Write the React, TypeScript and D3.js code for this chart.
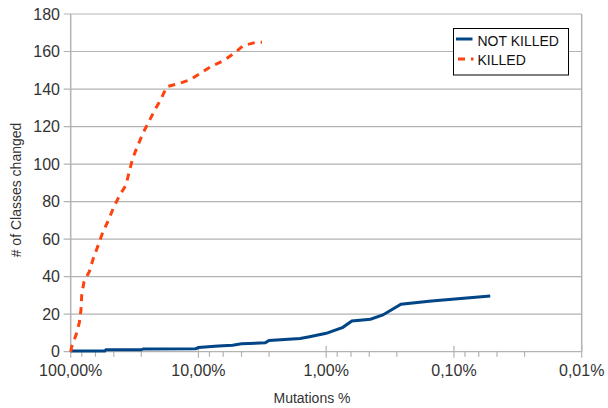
import React from "react";
import * as d3 from "d3";

const xTickValues = [100, 10, 1, 0.1, 0.01];
const xTickLabels = ["100,00%", "10,00%", "1,00%", "0,10%", "0,01%"];
const yTickValues = [0, 20, 40, 60, 80, 100, 120, 140, 160, 180];
const seriesNames = ["NOT KILLED", "KILLED"];

// [mutations %, # classes changed]
const notKilled: [number, number][] = [
  [100, 0.4], [54, 0.4], [53, 1.0], [28, 1.0], [27, 1.5], [10.5, 1.6], [10, 2.2],
  [7, 3], [5.4, 3.5], [4.6, 4.2], [3, 4.8], [2.8, 6], [1.6, 7], [1.35, 8],
  [1.0, 9.8], [0.74, 13], [0.63, 16.4], [0.45, 17.3], [0.36, 19.6], [0.26, 25.3],
  [0.15, 27], [0.052, 29.7],
];

const killed: [number, number][] = [
  [100, 0], [98.2, 2.7], [90.9, 8.9], [85.6, 15.5], [83.1, 22.2], [82, 30.2],
  [78.7, 37.3], [71.5, 42.7], [66.5, 49.8], [60.8, 56.9], [56.2, 63.5], [50.8, 69.9],
  [46.4, 76.5], [41.9, 82.7], [36.9, 88.9], [34.8, 96], [32.7, 103.1], [30.1, 109.3],
  [27.3, 116.1], [24.7, 122.1], [21.9, 128.9], [19.6, 134.8], [17.7, 141.3],
  [14.4, 142.8], [11.7, 144.9], [9.43, 148.8], [7.8, 152.4], [6.39, 155],
  [5.24, 159.1], [4.46, 163.2], [3.5, 165], [3.18, 165],
];

const colors = ["#004586", "#ff420e"];
const FONT = "'Liberation Sans', Arial, sans-serif";

export default function App() {
  const x = d3.scaleLog().domain([100, 0.01]).range([70.7, 581.7]);
  const y = d3.scaleLinear().domain([0, 180]).range([351.7, 14]);
  const line = d3
    .line<[number, number]>()
    .x((d) => x(d[0]))
    .y((d) => y(d[1]));

  const minor: number[] = [];
  for (let k = -2; k < 2; k++) {
    const base = Math.pow(10, k);
    for (let j = 1; j <= 4; j++) minor.push(base * (1 + 1.8 * j));
  }

  const x0 = x(100);
  const x1 = x(0.01);
  const yb = y(0);
  const yt = y(180);

  return (
    <svg
      width={608}
      height={408}
      style={{ position: "absolute", left: 0, top: 0, background: "#fff" }}
      fontFamily={FONT}
    >
      <rect x={0} y={0} width={608} height={408} fill="#fff" />
      {yTickValues.map((v) => (
        <line key={"g" + v} x1={x0 - 7} x2={x1} y1={y(v)} y2={y(v)} stroke="#b3b3b3" strokeWidth={1.2} />
      ))}
      <line x1={x0} x2={x0} y1={yt} y2={yb} stroke="#b3b3b3" strokeWidth={1.5} />
      <line x1={x1} x2={x1} y1={yt} y2={yb} stroke="#b3b3b3" strokeWidth={1.5} />
      {xTickValues.map((v) => (
        <line key={"M" + v} x1={x(v)} x2={x(v)} y1={yb - 6} y2={yb + 6} stroke="#b3b3b3" strokeWidth={1.2} />
      ))}
      {minor.map((v, i) => (
        <line key={"m" + i} x1={x(v)} x2={x(v)} y1={yb} y2={yb + 5} stroke="#b3b3b3" strokeWidth={1.2} />
      ))}
      {yTickValues.map((v) => (
        <text key={"yl" + v} x={60} y={y(v)} dy="0.36em" textAnchor="end" fontSize={16} fill="#333">
          {v}
        </text>
      ))}
      {xTickValues.map((v, i) => (
        <text key={"xl" + v} x={x(v)} y={376} textAnchor="middle" fontSize={16} fill="#333">
          {xTickLabels[i]}
        </text>
      ))}
      <text x={312} y={403} textAnchor="middle" fontSize={14} fill="#333">
        Mutations %
      </text>
      <text
        transform="translate(21,190) rotate(-90)"
        textAnchor="middle"
        fontSize={14}
        fill="#333"
      >
        # of Classes changed
      </text>
      <path d={line(notKilled) || ""} fill="none" stroke={colors[0]} strokeWidth={3} />
      <path d={line(killed) || ""} fill="none" stroke={colors[1]} strokeWidth={3} strokeDasharray="7 6" />
      <g>
        <rect x={453.5} y={28.5} width={115} height={46.5} fill="#fff" stroke="#000" strokeWidth={1} />
        <line x1={456} x2={472.5} y1={39} y2={39} stroke={colors[0]} strokeWidth={3} />
        <text x={477.5} y={46} fontSize={14} fill="#111">{seriesNames[0]}</text>
        <line x1={458} x2={473.5} y1={59} y2={59} stroke={colors[1]} strokeWidth={3} strokeDasharray="7 6" />
        <text x={477.5} y={65} fontSize={14} fill="#111">{seriesNames[1]}</text>
      </g>
    </svg>
  );
}
